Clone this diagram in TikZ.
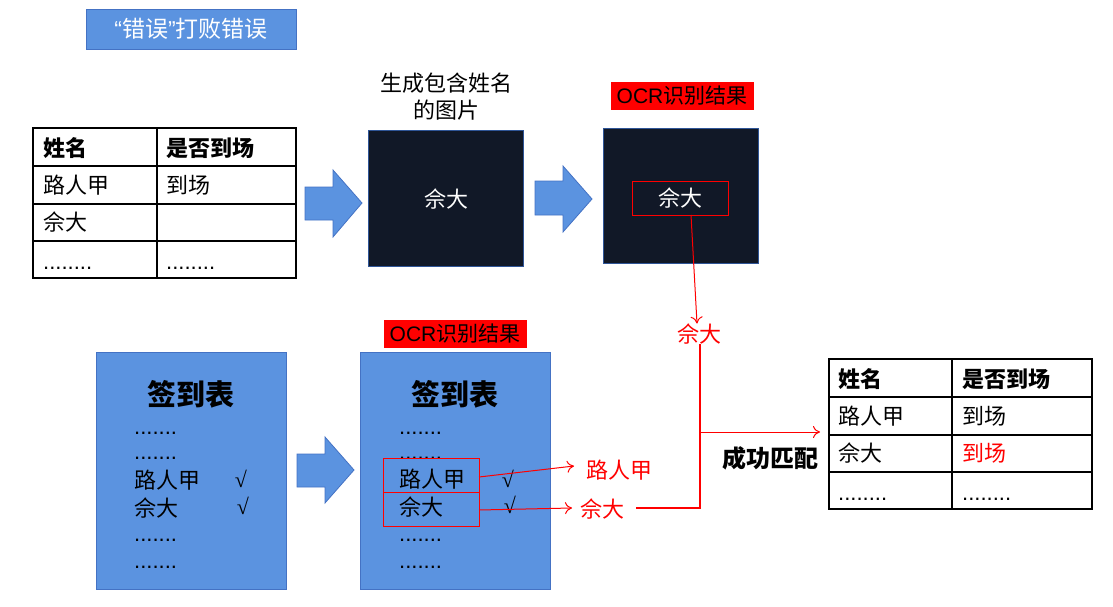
\documentclass[tikz,border=0pt]{standalone}
\usepackage{fontspec}
\setmainfont{Noto Sans CJK SC}
\newfontfamily\latinsans{Liberation Sans}
\newfontfamily\ckfont{Liberation Serif}
\usetikzlibrary{arrows.meta}
\definecolor{pblue}{HTML}{5B93E0}
\definecolor{pborder}{HTML}{4472C4}
\definecolor{darkbg}{HTML}{111827}
\definecolor{darkborder}{HTML}{2F5597}
\definecolor{ocrred}{HTML}{FF0000}
\tikzset{
  txt/.style={inner sep=0pt, font=\fontsize{22}{26}\selectfont},
  bld/.style={inner sep=0pt, font=\fontsize{22}{26}\selectfont\bfseries},
  dots/.style={inner sep=0pt, font=\fontsize{22}{26}\selectfont\latinsans},
  chk/.style={inner sep=0pt, font=\fontsize{22}{26}\selectfont\ckfont},
  tbl/.style={draw=black, line width=1.3pt},
  sheet/.style={draw=pborder, fill=pblue, line width=1pt},
  barrow/.style={draw=pborder, fill=pblue, line width=0.8pt},
  darkbox/.style={draw=darkborder, fill=darkbg, line width=1pt},
  ocrlabel/.style={fill=ocrred, inner sep=1pt, font=\fontsize{21}{24}\selectfont, text=black},
  redline/.style={draw=ocrred, line width=1pt},
  redarrow/.style={draw=ocrred, line width=1pt, -{To[length=7pt,width=12pt]}},
}
\begin{document}
\begin{tikzpicture}[x=1pt,y=-1pt]
\useasboundingbox (0,0) rectangle (1113,607);

% title
\node[draw=pborder, fill=pblue, minimum width=210pt, minimum height=40pt, text=white,
      font=\fontsize{23}{26}\selectfont, inner sep=0pt] (title) at (191,29) {{\latinsans “}错误{\latinsans ”}打败错误};

% table 1
\draw[tbl] (33,128) rectangle (296,278);
\draw[tbl] (33,166) -- (296,166) (33,204) -- (296,204) (33,241) -- (296,241) (157,128) -- (157,278);
\node[bld, anchor=west] (t1h1) at (43,148) {姓名};
\node[bld, anchor=west] (t1h2) at (166,148) {是否到场};
\node[txt, anchor=west] (t1a1) at (43,185) {路人甲};
\node[txt, anchor=west] (t1a2) at (166,185) {到场};
\node[txt, anchor=west] (t1b1) at (43,222) {佘大};
\node[dots, anchor=base west] (t1c1) at (43,269) {........};
\node[dots, anchor=base west] (t1c2) at (166,269) {........};

% arrow 1
\draw[barrow] (305,187) -- (333,187) -- (333,170) -- (362,203) -- (333,237) -- (333,220) -- (305,220) -- cycle;

% image 1
\node[ font=\fontsize{22}{27}\selectfont, align=center, inner sep=0pt] (lbl1) at (446,97) {生成包含姓名\\的图片};
\draw[darkbox] (368,131) rectangle (523,266);
\node[txt, text=white] (img1) at (446,199) {佘大};

% arrow 2
\draw[barrow] (535,181) -- (563,181) -- (563,166) -- (592,199) -- (563,232) -- (563,215) -- (535,215) -- cycle;

% image 2
\node[ocrlabel, minimum width=143pt, minimum height=28pt] (ocr1) at (682,96) {\latinsans OCR\rmfamily 识别结果};
\draw[darkbox] (603,129) rectangle (758,263);
\node[draw=ocrred, line width=1pt, minimum width=96pt, minimum height=34pt, text=white,
      font=\fontsize{22}{26}\selectfont, inner sep=0pt] (ocrbox) at (680,198) {佘大};

% red result
\node[txt, text=ocrred] (res1) at (699,334) {佘大};
\coordinate (rs) at (691,215);
\draw[redarrow] (rs) -- (res1.north -| 697,0) ;

% sheet 1
\draw[sheet] (96,352) rectangle (286,589);
\node[font=\fontsize{29}{32}\selectfont\bfseries, inner sep=0pt] (s1t) at (191,394) {签到表};
\node[dots, anchor=base west] (s1d1) at (134,434) {.......};
\node[dots, anchor=base west] (s1d2) at (134,459) {.......};
\node[txt, anchor=west] (s1a) at (134,480) {路人甲};
\node[chk] (s1ac) at (241,479) {√};
\node[txt, anchor=west] (s1b) at (134,508) {佘大};
\node[chk] (s1bc) at (243,506) {√};
\node[dots, anchor=base west] (s1d3) at (134,541) {.......};
\node[dots, anchor=base west] (s1d4) at (134,568) {.......};

% arrow 3
\draw[barrow] (297,454) -- (325,454) -- (325,437) -- (354,470) -- (325,503) -- (325,487) -- (297,487) -- cycle;

% sheet 2
\node[ocrlabel, minimum width=143pt, minimum height=28pt] (ocr2) at (455,334) {\latinsans OCR\rmfamily 识别结果};
\draw[sheet] (360,352) rectangle (550,589);
\node[font=\fontsize{29}{32}\selectfont\bfseries, inner sep=0pt] (s2t) at (455,394) {签到表};
\node[dots, anchor=base west] (s2d1) at (399,434) {.......};
\node[dots, anchor=base west] (s2d2) at (399,459) {.......};
\node[draw=ocrred, line width=1pt, minimum width=96pt, minimum height=34pt, inner sep=0pt] (rb1) at (431,475) {};
\node[draw=ocrred, line width=1pt, minimum width=96pt, minimum height=34pt, inner sep=0pt] (rb2) at (431,509) {};
\node[txt, anchor=west] (s2a) at (399,479) {路人甲};
\node[chk] (s2ac) at (508,479) {√};
\node[txt, anchor=west] (s2b) at (399,507) {佘大};
\node[chk] (s2bc) at (510,505) {√};
\node[dots, anchor=base west] (s2d3) at (399,541) {.......};
\node[dots, anchor=base west] (s2d4) at (399,568) {.......};

% red outputs
\node[txt, text=ocrred, anchor=west] (r1) at (586,470) {路人甲};
\node[txt, text=ocrred, anchor=west] (r2) at (580,509) {佘大};
\coordinate (rb1e) at (479,477);
\coordinate (rb2e) at (479,510);
\draw[redarrow] (rb1e) -- (574,466);
\draw[redarrow] (rb2e) -- (572,508);

% merge line
\coordinate (corner) at (700,508);
\coordinate (mid) at (700,432);
\draw[draw=ocrred, line width=2pt] (636,508) -- (corner) -- (res1.south -| corner);
\coordinate (t2l) at (820,432);
\draw[redarrow] (mid) -- (t2l);
\node[font=\fontsize{24}{26}\selectfont\bfseries, inner sep=0pt] (match) at (770,458) {成功匹配};

% table 2
\draw[tbl] (829,359) rectangle (1092,509);
\draw[tbl] (829,397) -- (1092,397) (829,435) -- (1092,435) (829,472) -- (1092,472) (952,359) -- (952,509);
\node[bld, anchor=west] (t2h1) at (838,379) {姓名};
\node[bld, anchor=west] (t2h2) at (962,379) {是否到场};
\node[txt, anchor=west] (t2a1) at (838,416) {路人甲};
\node[txt, anchor=west] (t2a2) at (962,416) {到场};
\node[txt, anchor=west] (t2b1) at (838,453) {佘大};
\node[txt, anchor=west, text=ocrred] (t2b2) at (962,453) {到场};
\node[dots, anchor=base west] (t2c1) at (838,500) {........};
\node[dots, anchor=base west] (t2c2) at (962,500) {........};
\end{tikzpicture}
\end{document}
